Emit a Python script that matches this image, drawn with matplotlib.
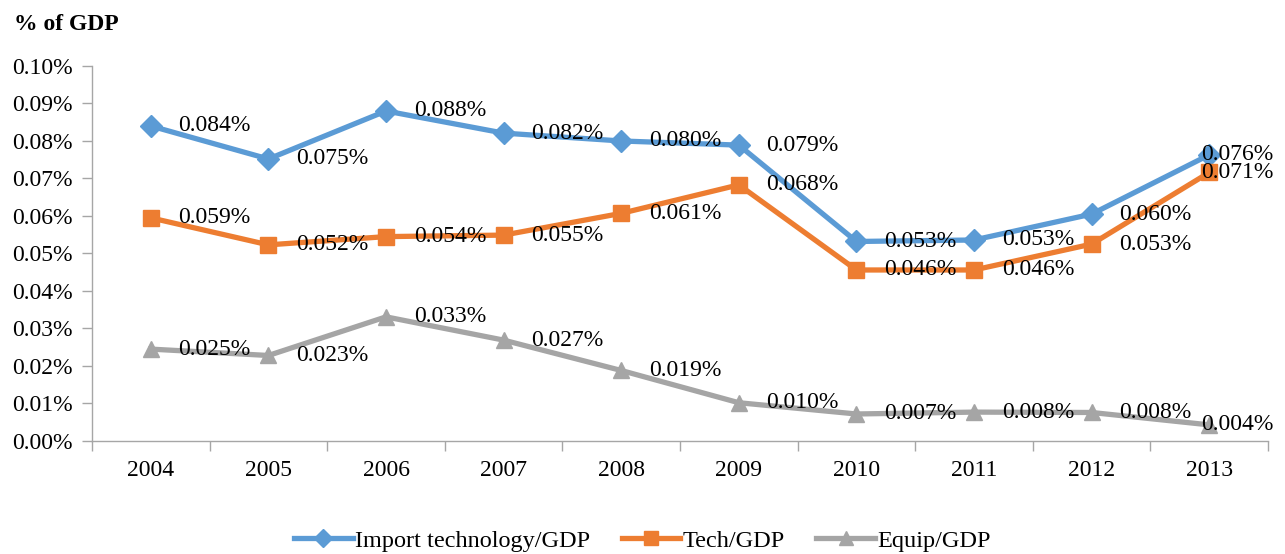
import matplotlib
matplotlib.use("Agg")
import matplotlib.pyplot as plt
from matplotlib.ticker import FixedLocator, FuncFormatter

years = ["2004", "2005", "2006", "2007", "2008", "2009", "2010", "2011", "2012", "2013"]
import_tech = [0.084, 0.0752, 0.088, 0.0821, 0.0800, 0.0789, 0.0532, 0.0536, 0.0605, 0.0763]
tech = [0.0595, 0.0523, 0.0545, 0.0549, 0.0607, 0.0683, 0.0456, 0.0456, 0.0525, 0.0716]
equip = [0.0245, 0.0228, 0.0331, 0.0269, 0.0188, 0.0102, 0.0072, 0.0077, 0.0076, 0.0043]
import_labels = ["0.084%", "0.075%", "0.088%", "0.082%", "0.080%", "0.079%", "0.053%", "0.053%", "0.060%", "0.076%"]
tech_labels = ["0.059%", "0.052%", "0.054%", "0.055%", "0.061%", "0.068%", "0.046%", "0.046%", "0.053%", "0.071%"]
equip_labels = ["0.025%", "0.023%", "0.033%", "0.027%", "0.019%", "0.010%", "0.007%", "0.008%", "0.008%", "0.004%"]
series_names = ["Import technology/GDP", "Tech/GDP", "Equip/GDP"]

plt.rcParams['font.family'] = ['Liberation Serif', 'DejaVu Serif']

fig = plt.figure(figsize=(12.85, 5.54), dpi=100)
ax = fig.add_axes([0.0716, 0.204, 0.9152, 0.6769])

x = list(range(len(years)))
styles = [
    (import_tech, import_labels, "#5B9BD5", "D", 11),
    (tech, tech_labels, "#ED7D31", "s", 12),
    (equip, equip_labels, "#A5A5A5", "^", 12),
]
for (vals, labs, col, mk, ms), name in zip(styles, series_names):
    ax.plot(x, vals, color=col, lw=3.8, marker=mk, markersize=ms,
            markeredgecolor=col, label=name, solid_joinstyle='round', zorder=3)
    for xi, v, lab in zip(x, vals, labs):
        dx = 20 if xi < len(x) - 1 else -6
        ax.annotate(lab, (xi, v), xytext=(dx, 0), textcoords="offset points",
                    ha="left", va="center", fontsize=17, color="black", zorder=4)

ax.set_xlim(-0.5, 9.5)
ax.set_ylim(0, 0.10)
ax.set_yticks([i * 0.01 for i in range(11)])
ax.yaxis.set_major_formatter(FuncFormatter(lambda v, p: f"{v:.2f}%"))
ax.set_xticks(x)
ax.set_xticklabels(years)
ax.xaxis.set_minor_locator(FixedLocator([i - 0.5 for i in range(11)]))
ax.tick_params(axis='x', which='major', length=0, labelsize=17, pad=14)
ax.tick_params(axis='x', which='minor', length=7, color="#A6A6A6", width=1)
ax.tick_params(axis='y', which='major', length=7, color="#A6A6A6", width=1, labelsize=17, pad=7)

for s in ["top", "right"]:
    ax.spines[s].set_visible(False)
for s in ["left", "bottom"]:
    ax.spines[s].set_color("#A6A6A6")
    ax.spines[s].set_linewidth(1)

fig.text(0.011, 0.955, "% of GDP", fontsize=17, fontweight="bold", ha="left", va="center")

fig.legend(loc="lower center", bbox_to_anchor=(0.5, -0.035), ncol=3, frameon=False,
           fontsize=17.5, handlelength=2.4, handletextpad=0.1, columnspacing=1.3,
           markerscale=0.85)

fig.savefig("out.png", dpi=100)
